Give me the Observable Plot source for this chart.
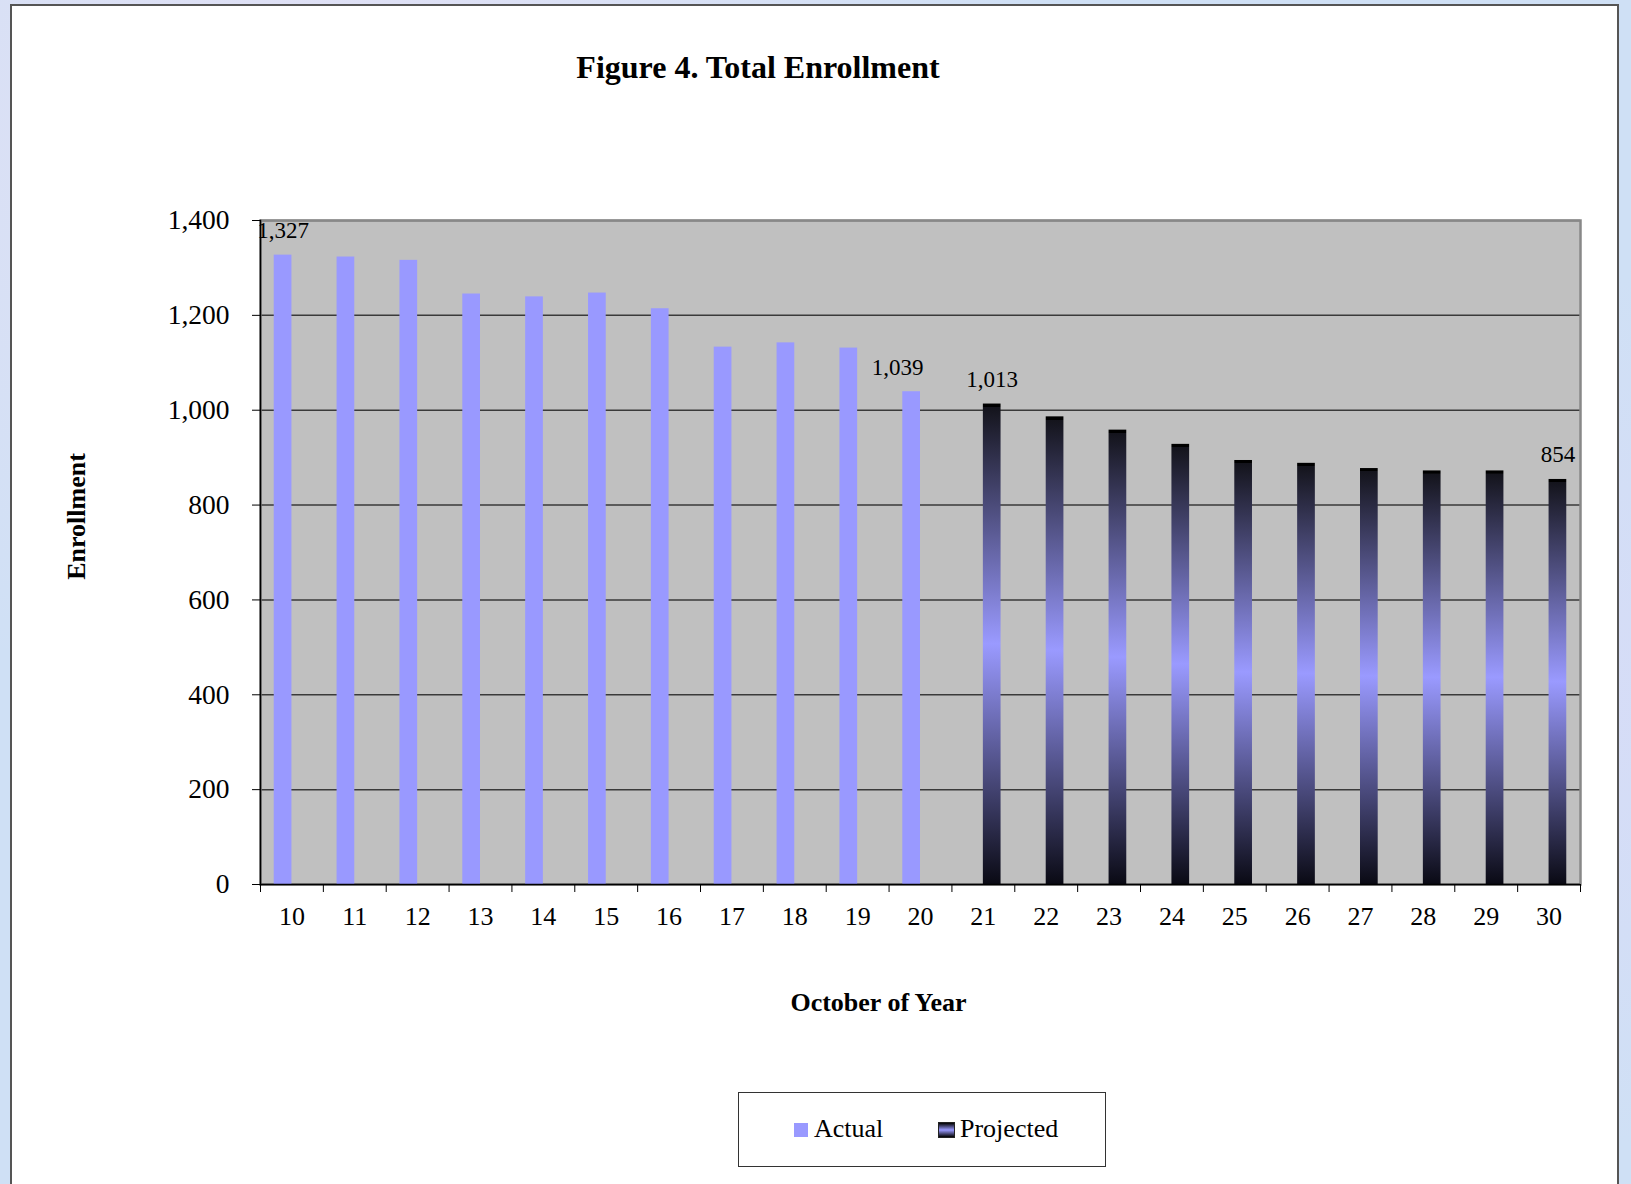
<!DOCTYPE html>
<html>
<head>
<meta charset="utf-8">
<script src="https://cdn.jsdelivr.net/npm/d3@7"></script>
<script src="https://cdn.jsdelivr.net/npm/@observablehq/plot@0.6"></script>
<style>
  html, body { margin: 0; padding: 0; }
  body {
    width: 1631px; height: 1184px; overflow: hidden; position: relative;
    background:
      radial-gradient(ellipse at 20% 10%, rgba(245,225,245,0.5), rgba(255,255,255,0) 40%),
      radial-gradient(ellipse at 85% 60%, rgba(225,215,250,0.5), rgba(255,255,255,0) 45%),
      radial-gradient(ellipse at 40% 90%, rgba(240,230,248,0.4), rgba(255,255,255,0) 40%),
      #cfe0f5;
    font-family: "Liberation Serif", "Times New Roman", serif;
  }
  #panel {
    position: absolute; left: 10px; top: 4px; width: 1609px; height: 1200px;
    background: white; border: 2px solid #555; box-sizing: border-box;
  }
  #title {
    position: absolute; left: 558px; width: 400px; top: 51px; text-align: center;
    font-weight: bold; font-size: 32px; line-height: 32px; white-space: nowrap; color: #000;
  }
  #chart { position: absolute; left: 0; top: 130px; }
  #legend {
    position: absolute; left: 738px; top: 1092px; width: 368px; height: 75px;
    border: 1.5px solid #333; box-sizing: border-box; background: white;
    font-size: 26px; color: #000;
  }
  .sw { position: absolute; top: 30px; width: 14px; height: 14px; }
  .lt { position: absolute; top: 21px; line-height: 30px; white-space: nowrap; }
</style>
</head>
<body>
<div id="panel"></div>
<div id="chart"></div>
<div id="title">Figure 4. Total Enrollment</div>
<div id="legend">
  <div class="sw" style="left:55px; background:#9999ff;"></div>
  <div class="lt" style="left:75px;">Actual</div>
  <div class="sw" style="left:200px; width:15px; background:linear-gradient(#000 0%, #9999ff 50%, #000 100%); outline:1px solid #222;"></div>
  <div class="lt" style="left:221px;">Projected</div>
</div>
<script>
// ---- data ----
const years = [10, 11, 12, 13, 14, 15, 16, 17, 18, 19, 20, 21, 22, 23, 24, 25, 26, 27, 28, 29, 30];
const actualYears = [10, 11, 12, 13, 14, 15, 16, 17, 18, 19, 20];
const actualValues = [1327, 1323, 1316, 1245, 1239, 1247, 1214, 1133, 1142, 1131, 1039];
const projectedYears = [21, 22, 23, 24, 25, 26, 27, 28, 29, 30];
const projectedValues = [1013, 986, 958, 928, 894, 888, 877, 872, 872, 854];
const yTicks = [0, 200, 400, 600, 800, 1000, 1200, 1400];
const labeledActual = [10];
const labeledActualShifted = [20];
const labeledProjected = [21, 30];

const actual = actualYears.map((year, i) => ({year, value: actualValues[i], series: "Actual"}));
const projected = projectedYears.map((year, i) => ({year, value: projectedValues[i], series: "Projected"}));

const W = 1631, H = 900;
const mL = 260, mR = 51, mT = 90, mB = 146;
const bw = (W - mL - mR) / years.length;
const barW = 17.7;

const fmt = d3.format(",");
const labelStyle = {x: "year", y: "value", text: d => fmt(d.value), fontSize: 23, dy: -17, lineAnchor: "bottom", fill: "black"};

const chart = Plot.plot({
  width: W, height: H,
  marginLeft: mL, marginRight: mR, marginTop: mT, marginBottom: mB,
  x: {type: "band", domain: years, padding: 0, round: false, label: null},
  y: {domain: [0, 1400], label: null},
  style: {fontFamily: "Liberation Serif, Times New Roman, serif", fontSize: "26px", background: "transparent", color: "black", overflow: "visible"},
  marks: [
    Plot.frame({fill: "#c0c0c0"}),
    Plot.gridY(yTicks, {stroke: "#3a3a3a", strokeOpacity: 1, strokeWidth: 1.5}),
    Plot.frame({stroke: "#888888", strokeWidth: 2.5}),
    Plot.barY(actual, {x: "year", y: "value", fill: "#9999ff", insetLeft: bw / 2 - barW, insetRight: bw / 2}),
    Plot.barY(projected, {x: "year", y: "value", fill: "url(#projGrad)", insetLeft: bw / 2, insetRight: bw / 2 - barW}),
    Plot.ruleY([0], {stroke: "black", strokeWidth: 1.5}),
    Plot.frame({anchor: "left", stroke: "black", strokeWidth: 1.5}),
    Plot.axisY(yTicks, {tickSize: 8, tickPadding: 23, tickFormat: fmt, fontSize: 27.5, label: null}),
    Plot.axisX({tickSize: 0, tickPadding: 22, fontSize: 26, label: null}),
    Plot.axisX({tickSize: 8, text: null, label: null, dx: -bw / 2}),
    Plot.axisX([30], {tickSize: 8, text: null, label: null, dx: bw / 2}),
    Plot.text(actual.filter(d => labeledActual.includes(d.year)), {...labelStyle, dx: -barW / 2}),
    Plot.text(actual.filter(d => labeledActualShifted.includes(d.year)), {...labelStyle, dx: -23}),
    Plot.text(projected.filter(d => labeledProjected.includes(d.year)), {...labelStyle, dx: barW / 2}),
    Plot.text(["Enrollment"], {frameAnchor: "left", rotate: -90, textAnchor: "middle", lineAnchor: "middle",
      dx: -184, dy: -36, fontWeight: "bold", fontSize: 26, fill: "black"}),
    Plot.text(["October of Year"], {frameAnchor: "bottom", textAnchor: "middle", lineAnchor: "middle",
      dx: -42, dy: 118, fontWeight: "bold", fontSize: 26, fill: "black"})
  ]
});

document.getElementById("chart").appendChild(chart);

const svg = d3.select(chart);
const defs = svg.insert("defs", ":first-child");
const g = defs.append("linearGradient").attr("id", "projGrad").attr("x1", 0).attr("y1", 0).attr("x2", 0).attr("y2", 1);
g.append("stop").attr("offset", "0%").attr("stop-color", "#000000");
g.append("stop").attr("offset", "0.7%").attr("stop-color", "#000000");
g.append("stop").attr("offset", "0.8%").attr("stop-color", "#14141c");
g.append("stop").attr("offset", "50%").attr("stop-color", "#9a9aff");
g.append("stop").attr("offset", "100%").attr("stop-color", "#0a0a14");
</script>
</body>
</html>
